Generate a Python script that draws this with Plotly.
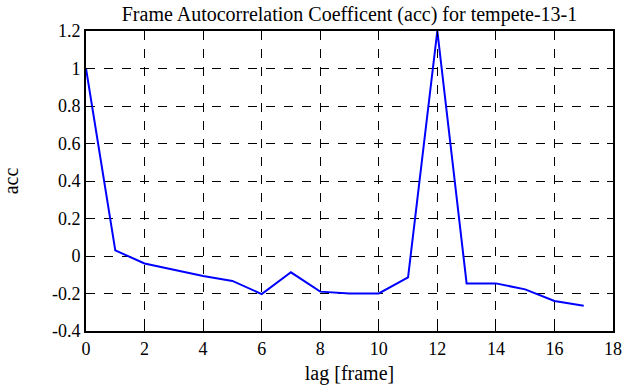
import plotly.graph_objects as go

lags = list(range(18))
acc = [1.0, 0.03, -0.04, -0.075, -0.107, -0.133, -0.203, -0.087, -0.19, -0.2,
       -0.2, -0.114, 1.2, -0.146, -0.146, -0.178, -0.24, -0.265]

x_ticks = [0, 2, 4, 6, 8, 10, 12, 14, 16, 18]
y_ticks = [-0.4, -0.2, 0, 0.2, 0.4, 0.6, 0.8, 1, 1.2]
y_tick_text = ["-0.4", "-0.2", "0", "0.2", "0.4", "0.6", "0.8", "1", "1.2"]

FAM = "Liberation Serif, Times New Roman, serif"

fig = go.Figure()
fig.add_trace(go.Scatter(x=lags, y=acc, mode="lines",
                         line=dict(color="#0000ff", width=2), showlegend=False))

fig.update_layout(
    width=635, height=387,
    margin=dict(l=86, r=22, t=31, b=56),
    paper_bgcolor="white", plot_bgcolor="white",
    font=dict(family=FAM, size=16, color="black"),
    title=dict(text="Frame Autocorrelation Coefficent (acc) for tempete-13-1",
               x=0.5, xref="paper", xanchor="center",
               y=1 - 14 / 387, yanchor="middle",
               font=dict(family=FAM, size=20, color="black")),
    xaxis=dict(range=[0, 18], tickvals=x_ticks, ticks="inside", ticklen=6,
               tickcolor="black", mirror="allticks", showline=True, linecolor="black",
               linewidth=2, showgrid=True, gridcolor="black", griddash="dash",
               gridwidth=1, zeroline=False, automargin=False,
               tickfont=dict(family=FAM, size=18, color="black"),
               title=dict(text="lag [frame]", standoff=8,
                          font=dict(family=FAM, size=20, color="black"))),
    yaxis=dict(range=[-0.4, 1.2], tickvals=y_ticks, ticktext=y_tick_text,
               ticks="inside", ticklen=6, tickcolor="black", mirror="allticks",
               showline=True, linecolor="black", linewidth=2, showgrid=True,
               gridcolor="black", griddash="dash", gridwidth=1, zeroline=False,
               automargin=False,
               tickfont=dict(family=FAM, size=18, color="black"),
               title=dict(text="acc", standoff=28,
                          font=dict(family=FAM, size=20, color="black"))),
)

fig.write_html("out.html", config={"displayModeBar": False},
               post_script="document.body.style.margin='0';")
